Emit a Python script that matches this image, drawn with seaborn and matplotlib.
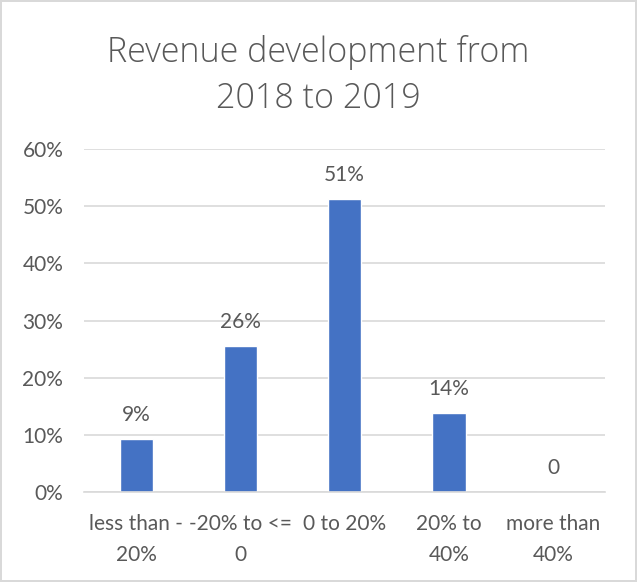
import matplotlib
matplotlib.use("Agg")
import matplotlib.pyplot as plt
import seaborn as sns
import pandas as pd
from matplotlib.ticker import PercentFormatter

# Revenue change buckets and share of companies in each
categories = ["less than -\n20%", "-20% to <=\n0", "0 to 20%", "20% to\n40%", "more than\n40%"]
shares = [0.092, 0.256, 0.512, 0.139, 0.0]
value_labels = ["9%", "26%", "51%", "14%", "0"]
y_ticks = [0.0, 0.1, 0.2, 0.3, 0.4, 0.5, 0.6]

sns.set_style("white")
plt.rcParams["font.family"] = ["Lato", "DejaVu Sans"]

text_color = "#595959"
grid_color = "#D9D9D9"
bar_color = "#4472C4"

df = pd.DataFrame({"category": categories, "share": shares})

fig = plt.figure(figsize=(6.37, 5.82), dpi=100)
fig.patch.set_facecolor("white")
fig.patch.set_edgecolor("#D9D9D9")
fig.patch.set_linewidth(1.5)

ax = fig.add_axes([0.132, 0.1546, 0.818, 0.5894])
sns.barplot(data=df, x="category", y="share", color=bar_color, width=0.32,
            saturation=1, ax=ax)

ax.set_ylim(0, 0.6)
ax.set_yticks(y_ticks)
ax.yaxis.set_major_formatter(PercentFormatter(1.0, decimals=0))
ax.set_xlabel("")
ax.set_ylabel("")
ax.grid(axis="y", color=grid_color, linewidth=1.2)
ax.set_axisbelow(True)
for side in ["left", "right", "top"]:
    ax.spines[side].set_visible(False)
ax.spines["bottom"].set_color(grid_color)
ax.spines["bottom"].set_linewidth(1.2)
ax.tick_params(axis="y", length=0, pad=15, labelsize=15, labelcolor=text_color)
ax.tick_params(axis="x", length=0, pad=16, labelsize=15, labelcolor=text_color)
for lbl in ax.get_xticklabels():
    lbl.set_linespacing(1.65)

# Value labels above each bar
for i, (v, txt) in enumerate(zip(shares, value_labels)):
    ax.annotate(txt, xy=(i, v), xytext=(0, 14), textcoords="offset pixels",
                ha="center", va="bottom", fontsize=15, color=text_color)

title_font = dict(family=["Open Sans", "DejaVu Sans"], fontweight=300,
                  fontsize=24.5, color=text_color)
fig.text(0.5, 0.910, "Revenue development from", ha="center", va="center",
         **title_font)
fig.text(0.5, 0.830, "2018 to 2019", ha="center", va="center", **title_font)

fig.savefig("out.png", dpi=100, facecolor=fig.get_facecolor(),
            edgecolor=fig.get_edgecolor())
